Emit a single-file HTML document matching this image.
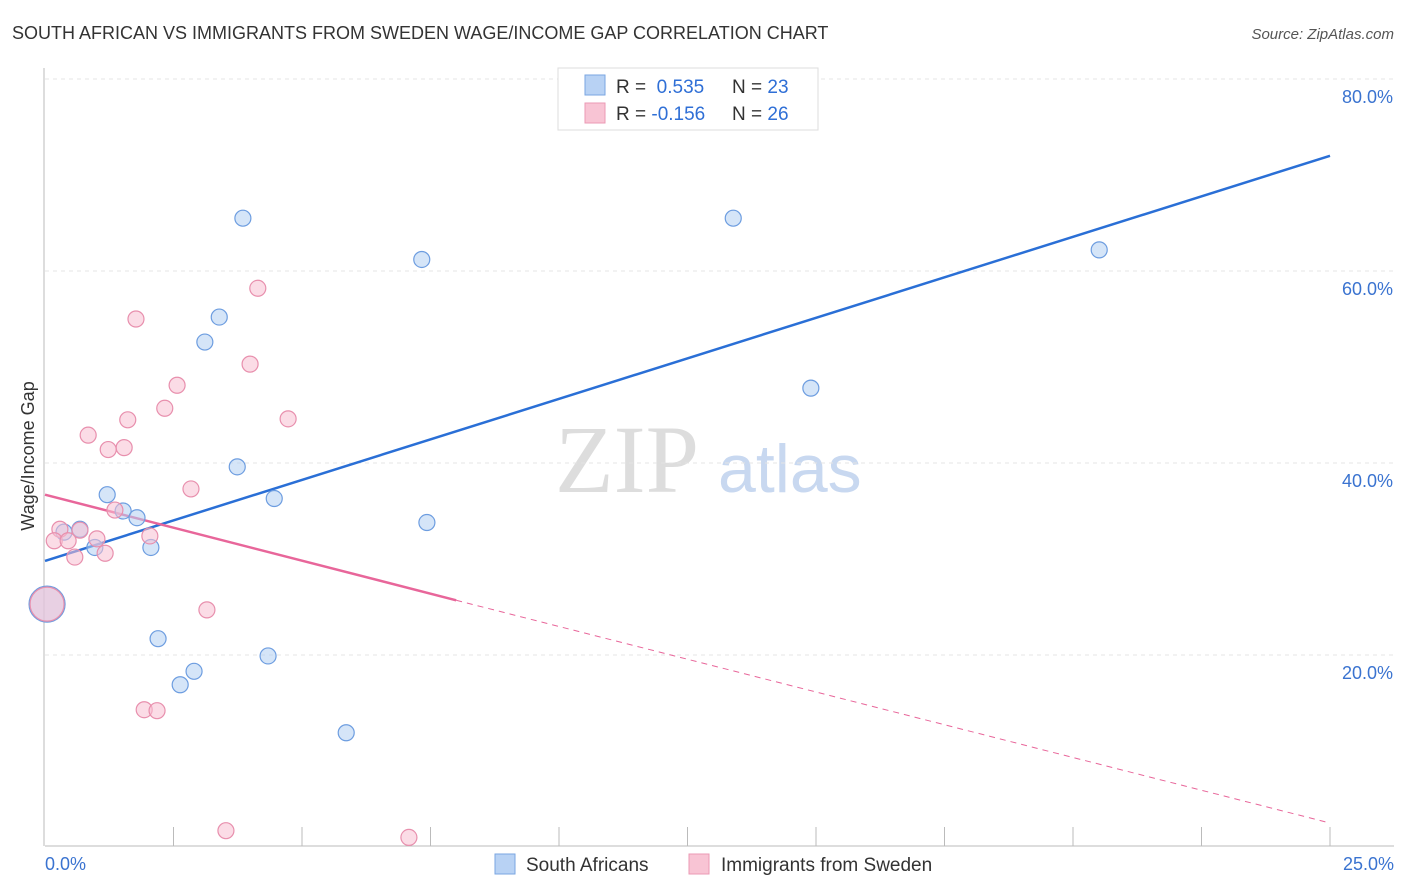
<!DOCTYPE html>
<html><head><meta charset="utf-8"><style>
body{margin:0;background:#fff;font-family:"Liberation Sans",sans-serif;}
svg{display:block}
</style></head><body>
<svg id="c" width="1406" height="892">
<text x="12" y="39" font-size="18" fill="#333">SOUTH AFRICAN VS IMMIGRANTS FROM SWEDEN WAGE/INCOME GAP CORRELATION CHART</text>
<text x="1394" y="39" font-size="15" fill="#555" font-style="italic" text-anchor="end">Source: ZipAtlas.com</text>
<text x="555" y="492" font-size="96" fill="#ddd" font-family="Liberation Serif,serif">ZIP</text>
<text x="718" y="492" font-size="68" fill="#c8d8f0">atlas</text>
<g id="grid"></g><g id="axes"></g><g id="lines"></g><g id="pts"></g>
<text transform="translate(34,456) rotate(-90)" font-size="18" fill="#333" text-anchor="middle">Wage/Income Gap</text>
<text x="45" y="870" font-size="18" fill="#3a73d0">0.0%</text>
<text x="1394" y="870" font-size="18" fill="#3a73d0" text-anchor="end">25.0%</text>
<g>
<rect x="558" y="68" width="260" height="62" fill="#fff" stroke="#ddd"/>
<rect x="585" y="75" width="20" height="20" fill="#b8d2f4" stroke="#7aa6e2"/>
<rect x="585" y="103" width="20" height="20" fill="#f8c4d4" stroke="#eb9ab4"/>
<text x="616" y="93" font-size="19" fill="#333">R = <tspan fill="#2f6fd6">&#160;0.535</tspan><tspan x="732">N = </tspan><tspan fill="#2f6fd6">23</tspan></text>
<text x="616" y="120" font-size="19" fill="#333">R = <tspan fill="#2f6fd6">-0.156</tspan><tspan x="732">N = </tspan><tspan fill="#2f6fd6">26</tspan></text>
</g>
<g>
<rect x="495" y="854" width="20" height="20" fill="#b8d2f4" stroke="#7aa6e2"/>
<text x="526" y="871" font-size="19" fill="#333">South Africans</text>
<rect x="689" y="854" width="20" height="20" fill="#f8c4d4" stroke="#eb9ab4"/>
<text x="721" y="871" font-size="19" fill="#333">Immigrants from Sweden</text>
</g>
</svg>
<script>
const yTicks=[20,40,60,80];
const xTickVals=[0,2.5,5,7.5,10,12.5,15,17.5,20,22.5,25];
const blueX=[3.85,13.39,7.33,20.51,3.39,3.11,14.90,3.74,1.21,4.46,1.52,1.79,7.43,0.68,0.37,0.97,2.06,2.20,4.34,2.90,2.63,5.86,0.04];
const blueY=[65.5,65.5,61.2,62.2,55.2,52.6,47.8,39.6,36.7,36.3,35.0,34.3,33.8,33.1,32.8,31.2,31.2,21.7,19.9,18.3,16.9,11.9,25.3];
const pinkX=[4.14,1.77,3.99,2.57,2.33,4.73,1.61,0.84,1.54,1.23,2.84,1.36,0.29,0.68,2.04,1.01,0.18,0.45,0.58,1.17,3.15,1.93,2.18,3.52,7.08,0.04];
const pinkY=[58.2,55.0,50.3,48.1,45.7,44.6,44.5,42.9,41.6,41.4,37.3,35.1,33.1,33.0,32.4,32.1,31.9,31.9,30.2,30.6,24.7,14.3,14.2,1.7,1.0,25.3];
const blueLine=[29.8,72.0];
const pinkLine=[36.7,25.7,2.5];
const pinkSolidEnd=8;
const NS="http://www.w3.org/2000/svg";
const X=v=>45+v*51.4, Y=v=>847-v*9.6;
function mk(p,t,a){const e=document.createElementNS(NS,t);for(const k in a)e.setAttribute(k,a[k]);document.getElementById(p).appendChild(e);return e;}
yTicks.forEach(t=>{
 const l=mk('grid','line',{x1:45,x2:1394,y1:Y(t),y2:Y(t),stroke:'#e4e4e4','stroke-dasharray':'4,4'});
 
 
 const tx=mk('grid','text',{x:1393,y:Y(t)+24,'font-size':18,fill:'#3a73d0','text-anchor':'end'});tx.textContent=t.toFixed(1)+'%';
 
 
});
const ax=mk('axes','line',{x1:45,x2:1394,y1:846,y2:846,stroke:'#bbb'});


const ay=mk('axes','line',{x1:44,x2:44,y1:68,y2:846,stroke:'#bbb'});


xTickVals.forEach(t=>{if(t===0)return;const l=mk('axes','line',{x1:X(t),x2:X(t),y1:827,y2:846,stroke:'#bbb'});
 
 });
function dot(x,y,r,f,s,n){const c=mk('pts','circle',{cx:X(x),cy:Y(y),r:r,fill:f,'fill-opacity':0.55,stroke:s,'stroke-width':1.2});
 
 }
blueX.forEach((x,i)=>dot(x,blueY[i],i===blueX.length-1?18:8,'#b3cff2','#6d9de0','south-african-point'));
pinkX.forEach((x,i)=>dot(x,pinkY[i],i===pinkX.length-1?17:8,'#f7bfd1','#e88fad','sweden-immigrant-point'));
const bl=mk('lines','line',{x1:X(0),y1:Y(blueLine[0]),x2:X(25),y2:Y(blueLine[1]),stroke:'#2a6fd6','stroke-width':2.5});


const pl=mk('lines','line',{x1:X(0),y1:Y(pinkLine[0]),x2:X(pinkSolidEnd),y2:Y(pinkLine[1]),stroke:'#e8669a','stroke-width':2.5});


const pd=mk('lines','line',{x1:X(pinkSolidEnd),y1:Y(pinkLine[1]),x2:X(25),y2:Y(pinkLine[2]),stroke:'#e8669a','stroke-width':1,'stroke-dasharray':'6,5'});


</script>
</body></html>
